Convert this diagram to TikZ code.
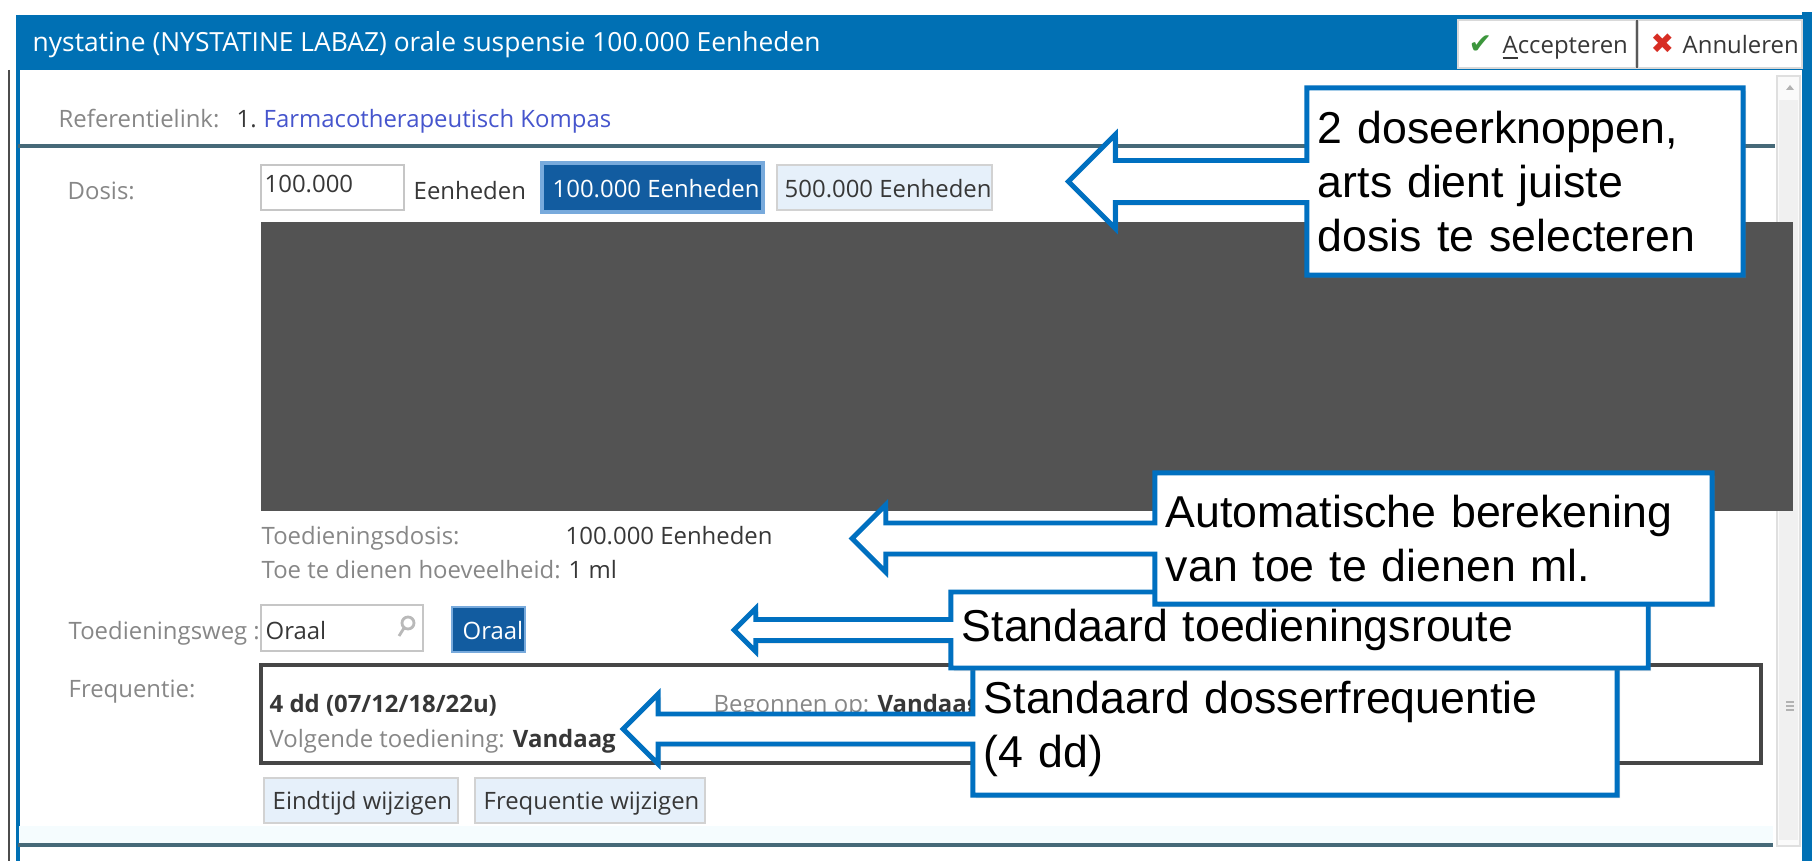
\documentclass[tikz,border=0pt]{standalone}
\usepackage{fontspec}
\usepackage{tikz}
\usetikzlibrary{shapes.arrows, shadows}
\newfontfamily\uifont{Open Sans}
\newfontfamily\callfont{Liberation Sans}
\newfontfamily\symfont{DejaVu Sans}
\definecolor{titleblue}{RGB}{0, 112, 180}
\definecolor{callblue}{RGB}{0, 112, 192}
\definecolor{uigray}{RGB}{135, 135, 135}
\definecolor{uidark}{RGB}{55, 55, 55}
\definecolor{linkblue}{RGB}{70, 85, 205}
\definecolor{selblue}{RGB}{18, 92, 160}
\definecolor{btnlight}{RGB}{230, 240, 250}
\definecolor{redact}{RGB}{83, 83, 83}
\definecolor{sepline}{RGB}{70, 105, 120}

\tikzset{
  uitext/.style={font=\uifont\fontsize{6.8}{8}\selectfont, anchor=west, inner sep=0pt, text height=1.6ex, text depth=0.4ex},
  uilabel/.style={uitext, text=uigray},
  uivalue/.style={uitext, text=uidark},
  uibtn/.style={draw=gray!35, fill=btnlight, line width=0.5pt},
  uifield/.style={draw=gray!45, fill=white, line width=0.5pt},
  callout/.style={arrow box, draw=callblue, line width=1.4pt, fill=white, align=left,
    font=\callfont\fontsize{12.7}{15.4}\selectfont, inner xsep=0.11cm, inner ysep=0.08cm,
    arrow box tip angle=90, arrow box head indent=0pt,
    drop shadow={shadow xshift=0.03cm, shadow yshift=-0.03cm, opacity=0.25}},
}

\begin{document}
\begin{tikzpicture}[x=0.01cm, y=-0.01cm]
  \useasboundingbox (0,0) rectangle (1812,861);
  \fill[white] (0,0) rectangle (1812,861);

  % dialog frame
  \draw[gray!60!black, line width=0.8pt] (9,70) -- (9,861);
  \draw[titleblue, line width=1.2pt] (18,15) -- (18,861);
  \fill[titleblue] (1802,12) rectangle (1812,861);
  \fill[titleblue] (18,15) rectangle (1805,70);
  \node[uitext, text=white, font=\uifont\fontsize{7.5}{9}\selectfont] (title) at (32,42) {nystatine (NYSTATINE LABAZ) orale suspensie 100.000 Eenheden};
  \draw[draw=gray!30, fill=white] (1458,20) rectangle (1636,68);
  \draw[draw=gray!30, fill=white] (1638,20) rectangle (1802,68);
  \draw[gray!70!black, line width=0.8pt] (1637,20) -- (1637,68);
  \node[uitext, text={rgb,255:red,60;green,150;blue,60}, font=\symfont\fontsize{8}{9}\selectfont] (okmark) at (1468,44) {✔};
  \node[uivalue] (accept) at (1502,44) {\underline{A}ccepteren};
  \node[uitext, text={rgb,255:red,215;green,45;blue,35}, font=\symfont\fontsize{8}{9}\selectfont] (xmark) at (1650,44) {✖};
  \node[uivalue] (cancel) at (1682,44) {Annuleren};

  % scrollbar
  \draw[draw=gray!25, fill=gray!4] (1777,76) rectangle (1800,846);
  \fill[gray!12] (1779,100) rectangle (1798,840);
  \fill[gray!60] (1786,90) -- (1794,90) -- (1790,85) -- cycle;
  \foreach \gy in {702,706,710}
    \draw[gray!60, line width=0.4pt] (1786,\gy) -- (1794,\gy);

  % reference row
  \node[uilabel] (reflabel) at (58,118) {Referentielink:};
  \node[uivalue] (refnum) at (236,118) {1.};
  \node[uitext, text=linkblue] (reflink) at (263,118) {Farmacotherapeutisch Kompas};
  \draw[sepline, line width=1pt] (18,146) -- (1775,146);

  % dose row
  \node[uilabel] (doslabel) at (67,190) {Dosis:};
  \draw[uifield] (261,165) rectangle (404,210);
  \node[uivalue] (dosval) at (264,183) {100.000};
  \node[uivalue] (dosunit) at (413,190) {Eenheden};
  \draw[draw={rgb,255:red,120;green,170;blue,220}, fill=selblue, line width=1pt] (542,163) rectangle (763,212);
  \node[uitext, text=white] (dosbtna) at (552,188) {100.000 Eenheden};
  \draw[uibtn] (777,165) rectangle (992,210);
  \node[uivalue] (dosbtnb) at (784,188) {500.000 Eenheden};

  % hidden part
  \fill[redact] (261,222) rectangle (1793,511);

  % computed dose
  \node[uilabel] (toedlabel) at (261,535) {Toedieningsdosis:};
  \node[uivalue] (toedval) at (565,535) {100.000 Eenheden};
  \node[uilabel] (hoevlabel) at (261,569) {Toe te dienen hoeveelheid:};
  \node[uivalue] (hoevval) at (568,569) {1 ml};

  % route row
  \node[uilabel] (weglabel) at (68,630) {Toedieningsweg :};
  \draw[uifield] (261,605) rectangle (423,651);
  \node[uivalue] (wegval) at (265,630) {Oraal};
  \draw[gray!55, line width=0.8pt] (408,623) circle[radius=0.06cm] (404,628) -- (399,636);
  \draw[draw={rgb,255:red,120;green,170;blue,220}, fill=selblue] (452,607) rectangle (525,652);
  \node[uitext, text=white] (wegbtn) at (462,630) {Oraal};

  % frequency
  \node[uilabel] (freqlabel) at (68,688) {Frequentie:};
  \draw[draw=gray!55!black, fill=white, line width=0.9pt] (261,665) rectangle (1761,763);
  \node[uivalue, font=\uifont\bfseries\fontsize{6.8}{8}\selectfont] (freqval) at (269,703) {4 dd (07/12/18/22u)};
  \node[uilabel] (startlabel) at (713,703) {Begonnen op: \textcolor{uidark}{\bfseries Vandaag}};
  \node[uilabel] (nextlabel) at (269,738) {Volgende toediening: \textcolor{uidark}{\bfseries Vandaag}};
  \draw[uibtn] (264,778) rectangle (458,823);
  \node[uivalue] (endbtn) at (272,800) {Eindtijd wijzigen};
  \draw[uibtn] (475,778) rectangle (705,823);
  \node[uivalue] (freqbtn) at (483,800) {Frequentie wijzigen};

  \fill[cyan!4] (19,826) rectangle (1773,843);
  \draw[sepline, line width=1pt] (18,845) -- (1773,845);

  % callouts
  \node[callout, text width=6.22cm, minimum height=1.32cm, arrow box arrows={west:3.47cm},
    arrow box shaft width=0.30cm, arrow box head extend=0.20cm] (freqnote) at (1295,729)
    {Standaard dosserfrequentie\\(4 dd)};
  \node[callout, text width=6.75cm, minimum height=0.76cm, arrow box arrows={west:2.14cm},
    arrow box shaft width=0.21cm, arrow box head extend=0.11cm] (routenote) at (1299.5,630)
    {Standaard toedieningsroute};
  \node[callout, text width=5.35cm, minimum height=1.31cm, arrow box arrows={west:3.0cm},
    arrow box shaft width=0.31cm, arrow box head extend=0.18cm] (calcnote) at (1433.5,538.5)
    {Automatische berekening\\van toe te dienen ml.};
  \node[callout, text width=4.14cm, minimum height=1.87cm, arrow box arrows={west:2.36cm},
    arrow box shaft width=0.42cm, arrow box head extend=0.26cm] (dosenote) at (1525,181.5)
    {2 doseerknoppen,\\arts dient juiste\\dosis te selecteren};
\end{tikzpicture}
\end{document}
